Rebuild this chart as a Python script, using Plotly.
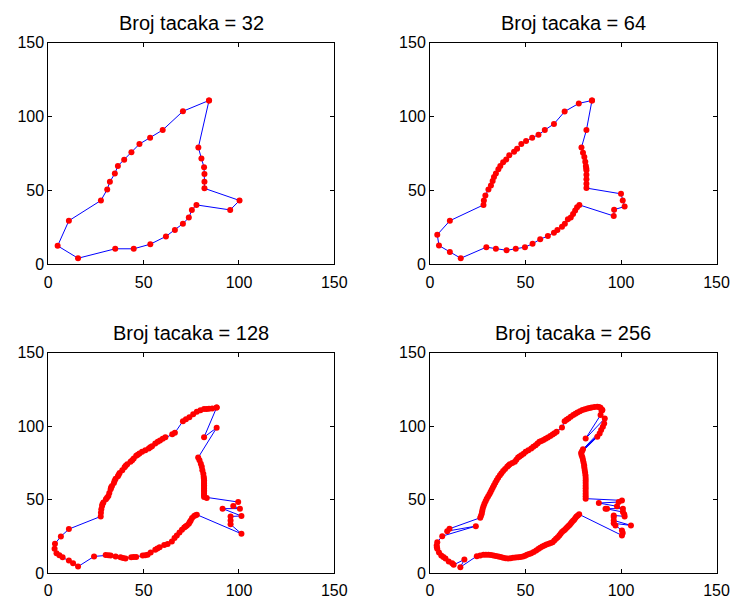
import plotly.graph_objects as go

# ---------------- data ----------------
titles = ["Broj tacaka = 32", "Broj tacaka = 64", "Broj tacaka = 128", "Broj tacaka = 256"]
tick_vals = [0, 50, 100, 150]
tick_text = ["0", "50", "100", "150"]

x32 = [84.3, 70.6, 60.0, 53.4, 47.8, 43.6, 39.8, 36.5, 34.9, 32.3, 30.9, 27.6, 10.8, 4.9, 15.6, 35.1,
       44.8, 53.5, 61.7, 66.4, 70.6, 73.7, 75.3, 77.7, 95.4, 100.3, 81.9, 81.9, 81.9, 81.7, 80.3, 78.7]
y32 = [110.9, 103.6, 90.9, 85.7, 81.4, 75.9, 70.7, 66.6, 61.4, 55.9, 50.7, 43.2, 29.5, 12.5, 4.1, 10.5,
       10.5, 13.6, 18.9, 23.2, 27.5, 31.6, 36.8, 40.2, 36.8, 43.2, 51.4, 55.9, 61.1, 65.7, 71.6, 79.1]

x64 = [84.8, 77.9, 70.5, 64.9, 60.1, 56.8, 53.5, 50.3, 47.8, 45.6, 44.0, 41.5, 39.9, 38.3, 36.8, 35.8,
       34.5, 33.5, 32.8, 31.9, 30.6, 29.0, 28.2, 28.0, 10.4, 3.8, 4.7, 10.4, 16.1, 29.5, 34.5, 40.1,
       44.9, 49.7, 53.7, 57.7, 61.7, 64.9, 66.7, 69.1, 70.6, 72.2, 73.7, 74.9, 76.0, 77.0, 78.2, 96.2,
       96.4, 101.9, 100.9, 100.0, 81.9, 81.9, 81.9, 81.9, 81.9, 81.8, 81.6, 81.3, 80.8, 80.1, 79.3, 81.9]
y64 = [110.9, 108.9, 103.4, 95.0, 90.9, 87.7, 85.7, 83.4, 81.4, 78.2, 76.1, 73.9, 70.9, 69.1, 66.6, 64.3,
       61.4, 59.1, 56.4, 53.4, 50.7, 46.6, 43.2, 40.2, 29.5, 20.0, 12.7, 8.4, 4.1, 11.6, 10.5, 9.5,
       10.5, 11.6, 13.9, 17.0, 19.1, 21.4, 23.2, 25.5, 27.5, 30.5, 31.6, 34.1, 36.4, 38.6, 40.2, 32.7,
       37.0, 39.1, 43.2, 47.7, 51.6, 54.5, 57.5, 60.7, 63.6, 65.1, 66.6, 69.5, 72.7, 75.5, 79.1, 90.9]

pts128 = [
    (88.3, 112.7), (86.0, 112.0), (84.3, 111.8), (83.0, 111.7), (81.7, 111.6), (79.8, 110.8), (77.9, 109.8),
    (76.0, 108.0), (74.0, 106.1), (72.2, 104.6), (70.6, 103.4), (66.4, 95.5), (65.0, 94.5), (61.4, 92.5),
    (60.0, 91.4), (58.6, 90.3), (57.4, 89.3), (56.1, 88.2), (54.4, 86.4), (53.5, 85.6), (52.7, 84.8),
    (50.9, 83.6), (49.2, 82.5), (47.8, 81.4), (46.9, 80.6), (46.1, 79.8), (44.8, 78.0), (44.0, 76.8),
    (43.1, 75.7), (41.4, 74.1), (40.6, 73.0), (40.0, 72.0), (38.8, 70.0), (37.4, 68.2), (36.9, 67.0),
    (36.5, 65.9), (35.3, 64.3), (34.8, 62.8), (34.4, 61.4), (33.4, 59.3), (32.9, 58.2), (32.7, 57.0),
    (32.0, 54.5), (31.5, 52.5), (30.8, 51.3), (30.2, 50.2), (28.9, 48.0), (28.4, 46.8), (28.2, 45.7),
    (27.8, 43.4), (27.6, 41.1), (27.5, 38.6),
    (10.8, 30.0), (6.6, 25.0), (3.5, 20.0), (3.3, 16.6), (4.3, 13.6), (5.8, 12.2), (7.5, 10.9),
    (10.8, 8.6), (13.0, 6.8), (15.6, 4.5),
    (24.0, 11.4), (30.1, 12.3), (31.5, 12.2), (32.7, 12.0), (35.3, 11.4), (37.9, 10.9), (39.2, 10.3),
    (40.5, 10.0), (43.5, 10.9), (44.8, 11.0), (46.1, 11.1), (49.5, 12.0), (50.8, 12.2), (52.1, 12.5),
    (53.7, 14.1), (56.1, 15.9), (57.2, 16.8), (58.4, 17.7), (60.8, 19.1), (62.6, 19.8), (64.8, 21.6),
    (66.2, 23.9), (67.4, 25.7), (68.8, 27.7), (70.1, 29.5), (71.3, 31.1), (72.0, 31.8), (72.7, 32.5),
    (73.7, 33.6), (74.2, 34.8), (74.7, 35.9), (75.4, 37.5), (76.5, 38.9), (77.2, 39.4), (77.9, 39.8),
    (101.3, 26.8), (95.6, 33.2), (95.6, 35.9), (95.6, 38.6), (101.3, 38.9), (91.4, 43.9), (100.5, 43.9),
    (97.0, 45.7), (99.6, 48.4),
    (83.1, 51.1), (81.7, 51.8), (81.7, 53.0), (81.7, 54.1), (81.7, 55.3), (81.7, 56.4), (81.7, 57.5),
    (81.7, 58.6), (81.7, 59.8), (81.7, 60.9), (81.7, 62.0), (81.7, 63.2), (81.6, 64.4), (81.5, 65.5),
    (81.3, 67.7), (80.8, 70.0), (80.5, 72.3), (80.0, 74.5), (79.3, 76.8), (78.6, 78.6),
    (88.3, 98.9), (81.7, 92.5),
]

pts256 = [
    (90.2, 110.9), (89.3, 112.5), (88.5, 113.0), (87.6, 113.2), (86.1, 113.0), (84.6, 112.7), (83.5, 112.4),
    (82.4, 112.0), (81.1, 111.5), (79.8, 110.9), (78.5, 110.1), (77.2, 109.3), (76.1, 108.4), (75.0, 107.5),
    (73.7, 106.3), (72.5, 105.2), (71.5, 104.3), (70.5, 103.4), (69.1, 99.1), (66.3, 96.1), (65.2, 95.2),
    (64.2, 94.3), (63.0, 93.3), (61.7, 92.3), (60.5, 91.4), (59.4, 90.5), (58.3, 89.9), (57.3, 89.3),
    (56.3, 88.2), (55.3, 87.0), (54.1, 85.9), (53.0, 84.8), (51.5, 83.6), (50.1, 82.5), (49.0, 81.3),
    (47.8, 80.2), (46.9, 79.4), (46.1, 78.6), (45.2, 77.2), (44.4, 75.7), (43.1, 74.9), (41.8, 74.1),
    (41.1, 73.2), (40.4, 72.3), (39.3, 70.9), (38.3, 69.5), (37.4, 68.0), (36.6, 66.6), (35.7, 64.9),
    (34.9, 63.2), (34.2, 61.5), (33.5, 59.8), (32.9, 58.3), (32.3, 56.8), (31.7, 55.2), (31.1, 53.6),
    (30.4, 52.1), (29.7, 50.7), (29.1, 49.0), (28.5, 47.3), (28.0, 45.6), (27.6, 43.9), (27.3, 42.2),
    (27.1, 40.5), (26.7, 39.1), (26.3, 37.7),
    (10.2, 30.2), (9.0, 28.6), (24.0, 32.0), (6.4, 25.2), (3.8, 21.1), (3.5, 18.9), (3.6, 17.7),
    (3.8, 16.6), (4.7, 14.1), (5.9, 12.0), (7.0, 11.0), (8.1, 10.0), (9.8, 8.0), (11.6, 6.8),
    (12.4, 5.7), (18.0, 9.3), (15.9, 4.1),
    (24.5, 11.6), (26.3, 12.0), (28.0, 12.5), (29.3, 12.6), (30.6, 12.5), (31.9, 12.3), (33.2, 12.0),
    (34.5, 11.7), (35.8, 11.4), (37.0, 11.0), (38.3, 10.5), (39.6, 10.2), (40.9, 10.0), (42.2, 10.2),
    (43.5, 10.5), (44.8, 10.7), (46.1, 10.9), (47.4, 11.1), (48.7, 11.4), (49.8, 11.9), (50.8, 12.5),
    (51.9, 13.0), (53.0, 13.6), (54.3, 14.5), (55.6, 15.5), (56.7, 16.4), (57.7, 17.3), (58.8, 18.1),
    (59.9, 18.9), (61.0, 19.5), (62.2, 20.0), (63.2, 20.5), (64.2, 21.1), (65.1, 22.2), (66.0, 23.4),
    (66.9, 24.5), (67.7, 25.7), (68.4, 26.8), (69.1, 28.0), (69.9, 28.8), (70.6, 29.5), (71.3, 30.5),
    (72.0, 31.4), (72.6, 32.2), (73.2, 33.0), (73.8, 33.9), (74.3, 34.8), (74.9, 35.6), (75.5, 36.4),
    (76.1, 37.5), (76.7, 38.6), (77.4, 39.3), (78.1, 40.0),
    (100.5, 25.7), (100.9, 27.3), (100.5, 29.1), (97.1, 32.5), (96.2, 33.9), (105.2, 32.5), (96.2, 35.9),
    (96.2, 38.2), (96.2, 39.3), (101.9, 38.6), (101.7, 40.0), (101.0, 41.6), (91.9, 43.9), (92.7, 43.9),
    (101.0, 43.9), (97.9, 45.5), (88.4, 47.7), (98.8, 48.4), (100.5, 49.5),
    (81.5, 50.7), (81.5, 52.3), (81.5, 54.1), (81.5, 55.9), (81.5, 57.7), (81.5, 59.5), (81.5, 61.4),
    (81.5, 63.0), (81.5, 64.8), (81.4, 66.6), (81.2, 68.4), (81.0, 70.2), (80.8, 71.8), (80.7, 73.4),
    (80.4, 75.2), (80.1, 77.0), (79.8, 78.6), (79.4, 80.2), (79.1, 81.8),
    (87.6, 92.7), (79.6, 83.0), (88.8, 95.0), (80.1, 84.3), (89.6, 97.3), (90.5, 99.5), (91.2, 101.8),
    (91.5, 105.2), (81.5, 91.6), (89.3, 107.5), (89.8, 110.5),
]

# ---------------- figure ----------------
def closed(xs, ys):
    return list(xs) + [xs[0]], list(ys) + [ys[0]]

series = [
    (x32, y32),
    (x64, y64),
    ([p[0] for p in pts128], [p[1] for p in pts128]),
    ([p[0] for p in pts256], [p[1] for p in pts256]),
]

W, H = 739, 598
col_px = [(48.3, 334.3), (430.0, 716.5)]
row_px = [(42.7, 264.3), (352.6, 573.2)]
title_y_px = [23, 333]

font_name = "Liberation Sans, Arial, Helvetica, sans-serif"

fig = go.Figure()
layout = dict(
    width=W, height=H,
    margin=dict(l=0, r=0, t=0, b=0, pad=0),
    paper_bgcolor="white", plot_bgcolor="white",
    showlegend=False,
    font=dict(family=font_name, size=16, color="black"),
    annotations=[],
)

for i, (xs, ys) in enumerate(series):
    r, c = divmod(i, 2)
    xa = "x" if i == 0 else f"x{i+1}"
    ya = "y" if i == 0 else f"y{i+1}"
    cx, cy = closed(xs, ys)
    fig.add_trace(go.Scatter(
        x=cx, y=cy, xaxis=xa, yaxis=ya, mode="lines+markers",
        line=dict(color="#0000ff", width=1),
        marker=dict(color="#ff0000", size=6, line=dict(width=0)),
        hoverinfo="skip", cliponaxis=False,
    ))
    x0, x1 = col_px[c]
    y0, y1 = row_px[r]
    axis_common = dict(
        range=[0, 150], tickmode="array", tickvals=tick_vals, ticktext=tick_text,
        ticks="inside", ticklen=4, tickwidth=1, tickcolor="black",
        showline=True, linecolor="black", linewidth=1, mirror="ticks",
        showgrid=False, zeroline=False, automargin=False,
        tickfont=dict(family=font_name, size=16, color="black"),
    )
    layout["xaxis" if i == 0 else f"xaxis{i+1}"] = dict(
        domain=[x0 / W, x1 / W], anchor=ya, ticklabelstandoff=3, **axis_common)
    layout["yaxis" if i == 0 else f"yaxis{i+1}"] = dict(
        domain=[1 - y1 / H, 1 - y0 / H], anchor=xa, **axis_common)
    layout["annotations"].append(dict(
        text=titles[i], xref="paper", yref="paper",
        x=(x0 + x1) / 2 / W, y=1 - title_y_px[r] / H,
        xanchor="center", yanchor="middle", showarrow=False,
        font=dict(family=font_name, size=20, color="black"),
    ))

fig.update_layout(**layout)
fig.write_html(
    "out.html",
    config={"displayModeBar": False, "staticPlot": True},
    post_script="document.body.style.margin='0px';document.body.style.padding='0px';"
                "document.body.style.overflow='hidden';",
)
